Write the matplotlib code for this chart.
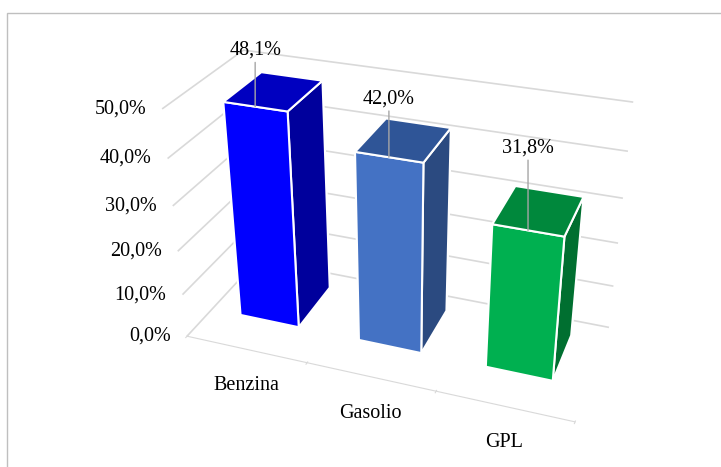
import matplotlib
matplotlib.use("Agg")
import matplotlib.pyplot as plt
from matplotlib.patches import Rectangle
from matplotlib.transforms import offset_copy
import matplotlib.ticker as ticker
from mpl_toolkits.mplot3d import proj3d

# data
categories = ["Benzina", "Gasolio", "GPL"]
shares = [0.481, 0.420, 0.318]
value_ticks = [0.0, 0.1, 0.2, 0.3, 0.4, 0.5]

# face colours: front, top, right side
front_colors = ["#0000FF", "#4472C4", "#00B050"]
top_colors = ["#0000C0", "#2F5597", "#00883C"]
side_colors = ["#00009C", "#2B4A80", "#006F30"]


def pct(v, pos=None):
    return "{:.1f}%".format(v * 100).replace(".", ",")


plt.rcParams["font.family"] = ["Liberation Serif", "DejaVu Serif"]
plt.rcParams["font.size"] = 14.5

fig = plt.figure(figsize=(7.21, 4.67), dpi=100)
ax = fig.add_axes([0.045, 0.005, 1.0, 1.0], projection="3d",
                  proj_type="persp", focal_length=0.45)
ax.view_init(elev=29, azim=-70)
ax.set_box_aspect((3.2, 1.3, 2.0), zoom=1.07)

bar_w = 0.5
y_front, depth = 0.33, 0.5
for i, v in enumerate(shares):
    # order of bar3d faces: -z, +z, -y, +y, -x, +x
    faces = [side_colors[i], top_colors[i], front_colors[i],
             side_colors[i], side_colors[i], side_colors[i]]
    ax.bar3d(i - bar_w / 2, y_front, 0, bar_w, depth, v, color=faces,
             edgecolor="white", linewidth=1.5, shade=False)

# category labels under the front floor edge
cat_trans = offset_copy(ax.transData, fig=fig, x=0, y=-27, units="dots")
for i, name in enumerate(categories):
    ax.text(i, 0, 0, name, transform=cat_trans, ha="center", va="top")

# value labels left of the side wall
val_trans = offset_copy(ax.transData, fig=fig, x=-16, y=0, units="dots")
for t in value_ticks:
    ax.text(-0.5, 0, t, pct(t), transform=val_trans, ha="right", va="center")

ax.set_xlim(-0.5, len(categories) - 0.5)
ax.set_ylim(0, 1)
ax.set_zlim(0, 0.5)
ax.set_xticks([k - 0.5 for k in range(len(categories) + 1)])
ax.set_yticks([])
ax.set_zticks(value_ticks)
for axis in (ax.xaxis, ax.yaxis, ax.zaxis):
    axis.set_major_formatter(ticker.NullFormatter())

grid_grey = "#d9d9d9"
for axis in (ax.xaxis, ax.yaxis, ax.zaxis):
    axis.set_pane_color((1, 1, 1, 0))
    axis.pane.set_edgecolor((1, 1, 1, 0))
    axis._axinfo["grid"]["color"] = (1, 1, 1, 0)
ax.zaxis._axinfo["grid"]["color"] = grid_grey
ax.zaxis._axinfo["grid"]["linewidth"] = 1.2
ax.xaxis.line.set_color(grid_grey)
ax.yaxis.line.set_color((1, 1, 1, 0))
ax.zaxis.line.set_color((1, 1, 1, 0))
ax.tick_params(axis="x", color=grid_grey)
ax.tick_params(axis="z", color=(1, 1, 1, 0))

# data labels: straight leader up from the front top edge of each bar
fig.canvas.draw()
label_lift = [47, 49, 73]  # pixels
for i, v in enumerate(shares):
    px, py, _ = proj3d.proj_transform(i, y_front, v, ax.M)
    ax.annotate(pct(v), xy=(px, py), xytext=(0, label_lift[i]),
                textcoords="offset pixels", ha="center", va="bottom",
                zorder=100,
                arrowprops=dict(arrowstyle="-", color="#a6a6a6", lw=1,
                                shrinkA=0, shrinkB=0, relpos=(0.5, 0)))

# outer chart border
fig.patches.append(Rectangle((7 / 721, -0.1), 1.2, 1.1 - 13 / 467,
                             transform=fig.transFigure, fill=False,
                             edgecolor="#bfbfbf", lw=1))

fig.savefig("out.png", dpi=100)
